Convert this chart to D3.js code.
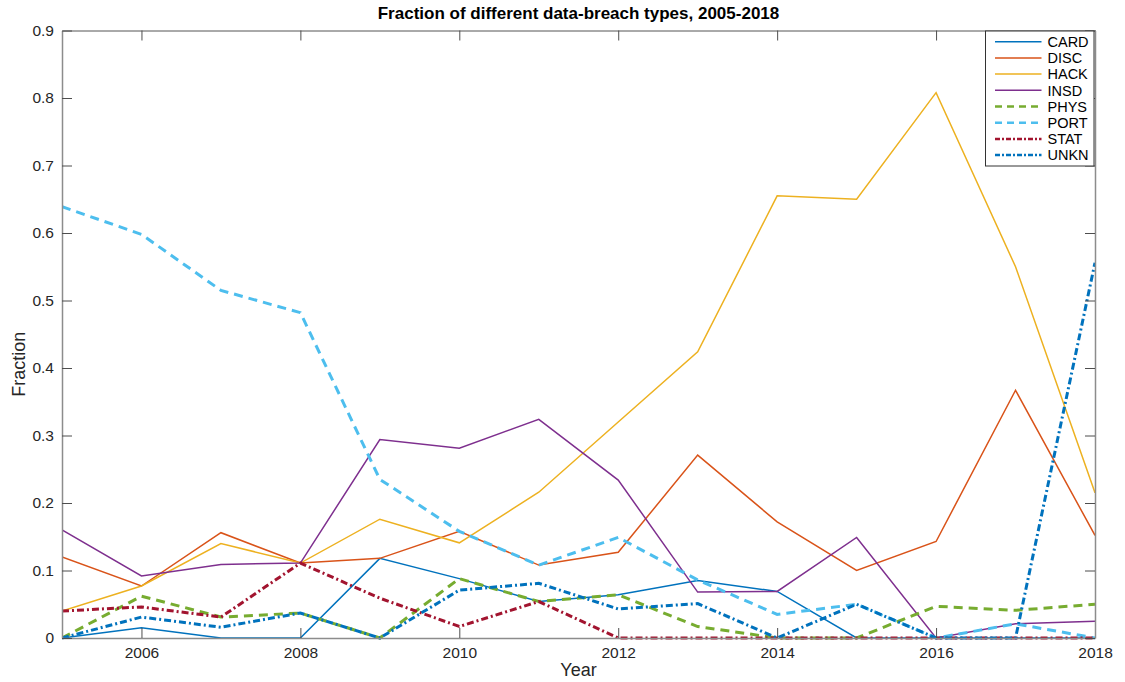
<!DOCTYPE html>
<html>
<head>
<meta charset="utf-8">
<script src="https://cdn.jsdelivr.net/npm/d3@7/dist/d3.min.js"></script>
<style>
  html, body { margin: 0; padding: 0; background: #fff; }
  svg { display: block; font-family: "Liberation Sans", Arial, Helvetica, sans-serif; }
</style>
</head>
<body>
<svg id="chart" width="1125" height="682"></svg>
<script>
// Years on the x axis
const years = [2005, 2006, 2007, 2008, 2009, 2010, 2011, 2012, 2013, 2014, 2015, 2016, 2017, 2018];

// Fraction of breaches per type, one value per year
const card = [0, 0.015, 0, 0, 0.118, 0.088, 0.054, 0.064, 0.085, 0.069, 0, 0, 0, 0];
const disc = [0.12, 0.077, 0.156, 0.111, 0.118, 0.158, 0.108, 0.127, 0.271, 0.172, 0.100, 0.143, 0.367, 0.152];
const hack = [0.04, 0.077, 0.14, 0.111, 0.176, 0.141, 0.216, 0.32, 0.424, 0.655, 0.65, 0.808, 0.55, 0.215];
const insd = [0.16, 0.092, 0.109, 0.111, 0.294, 0.281, 0.324, 0.234, 0.068, 0.069, 0.149, 0, 0.021, 0.025];
const phys = [0, 0.062, 0.031, 0.037, 0, 0.088, 0.054, 0.064, 0.017, 0, 0, 0.047, 0.041, 0.050];
const port = [0.639, 0.598, 0.515, 0.482, 0.235, 0.158, 0.108, 0.149, 0.086, 0.035, 0.050, 0, 0.021, 0];
const stat = [0.04, 0.046, 0.031, 0.111, 0.059, 0.017, 0.054, 0, 0, 0, 0, 0, 0, 0];
const unkn = [0, 0.031, 0.016, 0.037, 0, 0.071, 0.081, 0.043, 0.051, 0, 0.050, 0, 0, 0.556];

// Tick values
const xTicks = [2006, 2008, 2010, 2012, 2014, 2016, 2018];
const yTicks = [0, 0.1, 0.2, 0.3, 0.4, 0.5, 0.6, 0.7, 0.8, 0.9];

const seriesNames = ["CARD", "DISC", "HACK", "INSD", "PHYS", "PORT", "STAT", "UNKN"];
const seriesValues = [card, disc, hack, insd, phys, port, stat, unkn];
const seriesColors = ["#0072BD", "#D95319", "#EDB120", "#7E2F8E", "#77AC30", "#4DBEEE", "#A2142F", "#0072BD"];
const seriesDash = [null, null, null, null, "9,6", "9,6", "7,3,2,3", "7,3,2,3"];
const seriesWidth = [1.5, 1.5, 1.5, 1.5, 3, 3, 3, 3];

const series = seriesNames.map((name, i) => ({
  name, values: seriesValues[i], color: seriesColors[i], dash: seriesDash[i], width: seriesWidth[i]
}));

const svg = d3.select("#chart");
const plotLeft = 62, plotRight = 1095, plotTop = 30.5, plotBottom = 638;

const x = d3.scaleLinear().domain([2005, 2018]).range([plotLeft, plotRight]);
const y = d3.scaleLinear().domain([0, 0.9]).range([plotBottom, plotTop]);

// Data lines, clipped to the plot box
svg.append("clipPath").attr("id", "plotClip")
  .append("rect").attr("x", plotLeft).attr("y", plotTop - 2)
  .attr("width", plotRight - plotLeft).attr("height", plotBottom - plotTop + 4);

const line = d3.line().x((d, i) => x(years[i])).y(d => y(d));
const plot = svg.append("g").attr("clip-path", "url(#plotClip)");
series.forEach(s => {
  plot.append("path")
    .datum(s.values)
    .attr("d", line)
    .attr("fill", "none")
    .attr("stroke", s.color)
    .attr("stroke-width", s.width)
    .attr("stroke-dasharray", s.dash)
    .attr("stroke-linejoin", "miter");
});

// Axes on all four sides, ticks pointing inward
const axisColor = "#8c8c8c";
const labelColor = "#262626";
const tickLen = 10;

const gx = svg.append("g").attr("transform", `translate(0,${plotBottom})`)
  .call(d3.axisBottom(x).tickValues(xTicks).tickFormat(d3.format("d")).tickSizeInner(-tickLen).tickSizeOuter(0).tickPadding(9));
const gxTop = svg.append("g").attr("transform", `translate(0,${plotTop})`)
  .call(d3.axisTop(x).tickValues(xTicks).tickFormat("").tickSizeInner(-tickLen).tickSizeOuter(0));
const gy = svg.append("g").attr("transform", `translate(${plotLeft},0)`)
  .call(d3.axisLeft(y).tickValues(yTicks).tickFormat(d => d === 0 ? "0" : d3.format(".1f")(d)).tickSizeInner(-tickLen).tickSizeOuter(0).tickPadding(8));
const gyRight = svg.append("g").attr("transform", `translate(${plotRight},0)`)
  .call(d3.axisRight(y).tickValues(yTicks).tickFormat("").tickSizeInner(-tickLen).tickSizeOuter(0));

[gx, gxTop, gy, gyRight].forEach(g => {
  g.select(".domain").attr("stroke", axisColor).attr("stroke-width", 1.5);
  g.selectAll(".tick line").attr("stroke", "#4d4d4d").attr("stroke-width", 1);
  g.selectAll("text").attr("fill", labelColor).style("font-size", "15.5px")
    .style("font-family", "'Liberation Sans', Arial, sans-serif");
});
gxTop.select(".domain").attr("stroke", "#555").attr("stroke-width", 1);

// Title and axis labels
svg.append("text")
  .attr("x", (plotLeft + plotRight) / 2).attr("y", 19)
  .attr("text-anchor", "middle")
  .attr("font-weight", "bold").attr("font-size", 17).attr("fill", "#000")
  .text("Fraction of different data-breach types, 2005-2018");

svg.append("text")
  .attr("x", (plotLeft + plotRight) / 2).attr("y", 676)
  .attr("text-anchor", "middle")
  .attr("font-size", 18).attr("fill", labelColor)
  .text("Year");

svg.append("text")
  .attr("transform", `translate(25,${(plotTop + plotBottom) / 2 + 30}) rotate(-90)`)
  .attr("text-anchor", "middle")
  .attr("font-size", 18).attr("fill", labelColor)
  .text("Fraction");

// Legend box in the upper-right corner
const lgX = 985.5, lgY = 31, lgW = 108.5, lgH = 135;
const legend = svg.append("g");
legend.append("rect")
  .attr("x", lgX).attr("y", lgY).attr("width", lgW).attr("height", lgH)
  .attr("fill", "#fff").attr("stroke", "#333").attr("stroke-width", 1);

const rowStep = 16.2;
series.forEach((s, i) => {
  const cy = lgY + 10.7 + i * rowStep;
  legend.append("line")
    .attr("x1", lgX + 9.5).attr("x2", lgX + 56)
    .attr("y1", cy).attr("y2", cy)
    .attr("stroke", s.color)
    .attr("stroke-width", s.dash ? 2.5 : 1.5)
    .attr("stroke-dasharray", s.dash ? (s.dash === "9,6" ? "7,5" : "5,2,2,2") : null);
  legend.append("text")
    .attr("x", lgX + 62).attr("y", cy + 5.2)
    .attr("font-size", 14.5).attr("fill", "#000")
    .text(s.name);
});
</script>
</body>
</html>
